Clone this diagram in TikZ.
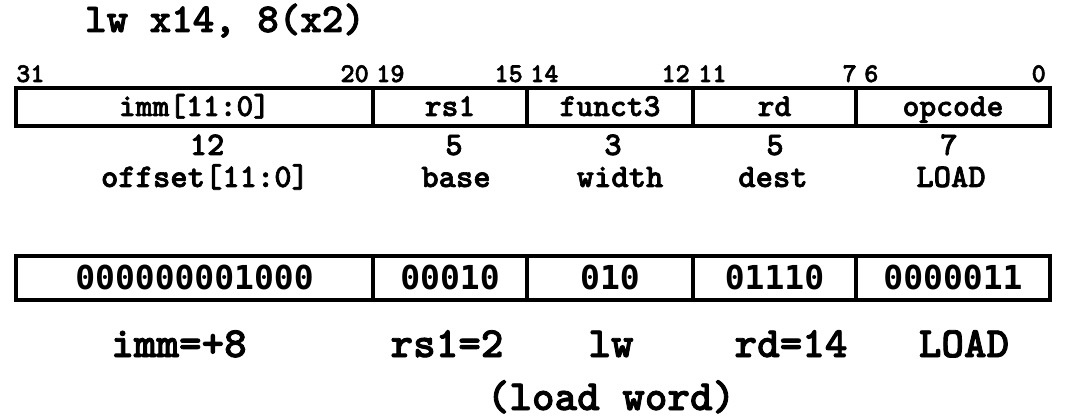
\documentclass[tikz,border=0pt]{standalone}
\usepackage{fontspec}
\setmonofont{lmmonolt10-bold.otf}[FakeBold=2]
\newfontfamily\binfont{DejaVu Sans Mono}
\usetikzlibrary{positioning}

\tikzset{
	field/.style={inner sep=0pt, outer sep=0pt,
		anchor=north west, minimum height=38pt, text height=20pt, text depth=2pt,
		font=\fontsize{32}{32}\selectfont\ttfamily},
	binfield/.style={field, minimum height=44pt, text height=24pt, text depth=0pt,
		font=\fontsize{33}{33}\selectfont\binfont\bfseries},
	frame/.style={line width=3.5pt},
	bitno/.style={inner sep=0pt, font=\fontsize{27}{27}\selectfont\ttfamily},
	desc/.style={inner sep=0pt, anchor=base, font=\fontsize{33}{33}\selectfont\ttfamily},
	big/.style={inner sep=0pt, anchor=base, font=\fontsize{43}{43}\selectfont\ttfamily}
}

\begin{document}
\begin{tikzpicture}[x=1pt,y=-1pt]
	\useasboundingbox (0,0) rectangle (1070,419);
	
	\node[big, font=\fontsize{41}{41}\selectfont\ttfamily] (title) at (225,32) {lw x14, 8(x2)};
	
	% format fields
	\node[field, minimum width=357pt] (imm)    at (16,88)           {imm[11:0]};
	\node[field, minimum width=154pt] (rs1)    at (imm.north east)  {rs1};
	\node[field, minimum width=166pt] (funct3) at (rs1.north east)  {funct3};
	\node[field, minimum width=163pt] (rd)     at (funct3.north east) {rd};
	\node[field, minimum width=194pt] (opcode) at (rd.north east)   {opcode};
	
	% bit positions
	\node[bitno, anchor=base west] (b31) at (16,82)   {31};
	\node[bitno, anchor=base east] (b20) at (369,82)  {20};
	\node[bitno, anchor=base west] (b19) at (376,82)  {19};
	\node[bitno, anchor=base east] (b15) at (523,82)  {15};
	\node[bitno, anchor=base west] (b14) at (530,82)  {14};
	\node[bitno, anchor=base east] (b12) at (690,82)  {12};
	\node[bitno, anchor=base west] (b11) at (698,82)  {11};
	\node[bitno, anchor=base east] (b7)  at (857,82)  {7};
	\node[bitno, anchor=base west] (b6)  at (864,82)  {6};
	\node[bitno, anchor=base east] (b0)  at (1046,82) {0};
	
	% widths and meanings
	\node[desc] (immn)    at (207,155) {12};
	\node[desc] (immd)    at (205,187) {offset[11:0]};
	\node[desc] (rs1n)    at (454,155) {5};
	\node[desc] (rs1d)    at (456,187) {base};
	\node[desc] (funct3n) at (613,155) {3};
	\node[desc] (funct3d) at (620,187) {width};
	\node[desc] (rdn)     at (775,155) {5};
	\node[desc] (rdd)     at (773,187) {dest};
	\node[desc] (opcoden) at (949,155) {7};
	\node[desc] (opcoded) at (951,187) {LOAD};
	
	% encoded instruction
	\node[binfield, minimum width=357pt] (immb)    at (16,256)           {000000001000};
	\node[binfield, minimum width=154pt] (rs1b)    at (immb.north east)  {00010};
	\node[binfield, minimum width=166pt] (funct3b) at (rs1b.north east)  {010};
	\node[binfield, minimum width=163pt] (rdb)     at (funct3b.north east) {01110};
	\node[binfield, minimum width=194pt] (opcodeb) at (rdb.north east)   {0000011};
	
	% decoded values
	\node[big] (immv)    at (179,357) {imm=+8};
	\node[big] (rs1v)    at (447,357) {rs1=2};
	\node[big] (funct3v) at (611,357) {lw};
	\node[big] (rdv)     at (791,357) {rd=14};
	\node[big] (opcodev) at (964,357) {LOAD};
	\node[big] (note)    at (611,410) {(load word)};
	
	% frames
	\draw[frame] (immb.north west) rectangle (opcodeb.south east);
	\draw[frame] (rs1b.north west) -- (rs1b.south west)
		(funct3b.north west) -- (funct3b.south west)
		(rdb.north west) -- (rdb.south west)
		(opcodeb.north west) -- (opcodeb.south west);
	\draw[frame] (imm.north west) rectangle (opcode.south east);
	\draw[frame] (rs1.north west) -- (rs1.south west)
		(funct3.north west) -- (funct3.south west)
		(rd.north west) -- (rd.south west)
		(opcode.north west) -- (opcode.south west);
	
\end{tikzpicture}
\end{document}
